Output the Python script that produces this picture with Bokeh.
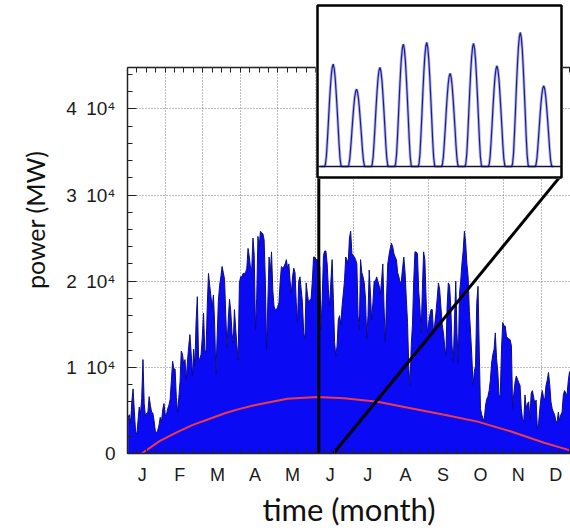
from bokeh.plotting import figure
from bokeh.models import Range1d, LinearAxis, FixedTicker, Grid, Span, Title
from bokeh.embed import file_html
from bokeh.resources import INLINE

# ---------------- data ----------------
MONTH_LABELS = ["J", "F", "M", "A", "M", "J", "J", "A", "S", "O", "N", "D"]
Y_TICKS = [0, 10000, 20000, 30000, 40000]
Y_TICK_LABELS = ["0", "1\u200210\u2074", "2\u200210\u2074", "3\u200210\u2074", "4\u200210\u2074"]

# daily peak power (MW), one list per month
JAN = [4200, 4500, 3500, 6000, 7500, 5000, 2600, 2200, 3800, 5400, 4600, 6400, 10900, 5800, 4300, 4700,
       4800, 6600, 5600, 4800, 4700, 3800, 2600, 2400, 2700, 3300, 4200, 3700, 5100, 5800, 4500]
FEB = [4500, 5200, 5600, 6300, 8500, 10700, 9800, 9800, 6500, 4800, 6500, 8300, 11900, 11500, 10300,
       10900, 8500, 10700, 12400, 13800, 11600, 9000, 12100, 10200, 15400, 18200, 10900, 11000]
MAR = [11500, 13500, 16300, 12000, 11800, 17000, 20900, 19500, 18200, 17000, 18400, 15000, 9200, 13500,
       17700, 19500, 20500, 21700, 21000, 20200, 16000, 12300, 15500, 17900, 16500, 14000, 12800, 16700,
       14500, 12500, 10900]
APR = [19800, 20500, 20500, 20900, 20900, 21000, 21500, 23800, 22800, 21500, 21500, 25000, 23000, 14400,
       18000, 25200, 24000, 25800, 25600, 25500, 24800, 20000, 12100, 17500, 22800, 21000, 23400, 19000,
       17100, 16700]
MAY = [16700, 17000, 17500, 20000, 21700, 21500, 21700, 22000, 22500, 21500, 22000, 20000, 18600, 20500,
       21500, 21000, 17500, 15200, 20000, 20500, 19000, 17500, 14000, 13300, 19800, 18500, 17500, 17800,
       18000, 20000, 22800]
JUN = [22800, 22500, 22500, 21700, 21700, 14400, 18000, 23000, 23500, 23500, 22000, 19000, 17100, 20000,
       22500, 18000, 12900, 11300, 12500, 15500, 16000, 15000, 17000, 18500, 20000, 22800, 22500, 22000,
       25000, 25800]
JUL = [23200, 23000, 22800, 22500, 22000, 16000, 14400, 22500, 21000, 20500, 19800, 18000, 13300, 16000,
       21300, 18500, 15500, 17500, 20000, 20000, 20500, 20000, 19500, 18500, 20000, 22000, 17000, 12900,
       18000, 22000, 23000]
AUG = [23800, 24400, 24000, 23200, 22800, 22500, 21000, 20500, 19800, 20000, 21500, 22800, 21000, 18000,
       15200, 10000, 7900, 12500, 15000, 20000, 23400, 23400, 23200, 19000, 17000, 14000, 19000, 23400,
       22500, 18000, 14000]
SEP = [15000, 16000, 16700, 16700, 14000, 15000, 16300, 18000, 19800, 19000, 17000, 15000, 14000, 12500,
       11300, 17000, 19800, 19500, 17000, 12500, 10600, 15500, 20000, 14000, 10500, 18500, 20000, 22000,
       23500, 25800]
OCT = [24500, 22000, 20500, 16500, 14000, 11300, 7900, 9500, 10200, 17500, 19400, 12000, 5200, 4500, 4100,
       3700, 5500, 6300, 6600, 7300, 8500, 10500, 11500, 12100, 14000, 11000, 9500, 6700, 6700, 12100, 15200]
NOV = [14800, 14800, 13600, 13400, 13300, 13200, 12500, 5200, 7000, 8300, 9000, 8600, 8200, 7900, 5200,
       4000, 3700, 6800, 5200, 5800, 6000, 4000, 7000, 7300, 6500, 5800, 6200, 2900, 3500, 5200]
DEC = [6500, 7300, 6500, 6200, 7900, 8500, 9400, 8000, 6000, 5200, 4800, 4500, 3700, 3700, 4800, 3800,
       4500, 4800, 6800, 7300, 7000, 6800, 8400, 9500, 9000, 8000, 6000, 5000, 4500, 5500, 6000]

# red curve (mean), month position -> MW
RED_MONTH = [0.38, 0.84, 1.28, 1.72, 2.17, 2.61, 2.96, 3.37, 4.25, 5.05, 5.76, 6.65, 7.53, 8.42, 9.31,
             10.2, 11.08, 11.7, 12.0]
RED_MW = [0, 1400, 2400, 3300, 4000, 4700, 5150, 5600, 6350, 6550, 6400, 6000, 5250, 4500, 3700, 2550,
          1250, 450, 0]

# inset: ten consecutive days in June (hourly)
INSET_PEAKS = [19440, 14690, 18810, 23240, 23560, 17670, 23370, 19130, 25460, 15330]
DAY_PROFILE = [0, 0, 0, 0, 0, 0.02, 0.10, 0.25, 0.42, 0.60, 0.76, 0.89, 0.97, 1.00, 0.96, 0.87, 0.73,
               0.57, 0.40, 0.22, 0.08, 0.01, 0, 0]

# ---------------- build ----------------
daily = JAN + FEB + MAR + APR + MAY + JUN + JUL + AUG + SEP + OCT + NOV + DEC
n_days = len(daily)
day_x = [(d + 0.5) * 12.0 / n_days for d in range(n_days)]

FONT_TICK = "Liberation Sans"
FONT_TITLE = "Lato"
W, H = 570, 530
FRAME_LEFT, FRAME_TOP, FRAME_BOTTOM = 127, 67, 457
X_END, Y_END = 11.78, 44800

p = figure(width=W, height=H, x_range=Range1d(0, X_END), y_range=Range1d(0, Y_END),
           x_axis_type=None, y_axis_type=None, output_backend="svg", toolbar_location=None,
           min_border_left=FRAME_LEFT, min_border_right=0, min_border_top=FRAME_TOP,
           min_border_bottom=H - FRAME_BOTTOM,
           background_fill_color="white", border_fill_color="white")
p.outline_line_color = None

PX_PER_MONTH = (W - FRAME_LEFT) / X_END
FRAME_H = FRAME_BOTTOM - FRAME_TOP
def mx(px):
    return (px - FRAME_LEFT) / PX_PER_MONTH
def my(py):
    return (FRAME_BOTTOM - py) / FRAME_H * Y_END

minor_x = [i * 0.25 for i in range(49)]
xgrid = Grid(dimension=0, ticker=FixedTicker(ticks=list(range(1, 12))),
             grid_line_color="#7a7a7a", grid_line_dash="1 2", grid_line_width=1)
ygrid = Grid(dimension=1, ticker=FixedTicker(ticks=Y_TICKS[1:]),
             grid_line_color="#7a7a7a", grid_line_dash="1 2", grid_line_width=1)
p.add_layout(xgrid, "center")
p.add_layout(ygrid, "center")

left = LinearAxis(ticker=FixedTicker(ticks=Y_TICKS, minor_ticks=list(range(0, 44801, 2000))),
                  major_label_overrides={float(t): s for t, s in zip(Y_TICKS, Y_TICK_LABELS)},
                  major_tick_in=9, major_tick_out=0, minor_tick_in=5, minor_tick_out=0,
                  axis_line_width=1.5, axis_line_color="#222222",
                  major_tick_line_color="#222222", minor_tick_line_color="#222222",
                  major_label_text_font=FONT_TICK, major_label_text_font_size="19px",
                  major_label_text_color="#1a1a1a", major_label_standoff=12)
p.add_layout(left, "left")

# y title, shifted up from the frame centre as in the reference
p.add_layout(Title(text="power (MW)", align="right", offset=83, standoff=27,
                   text_font=FONT_TITLE, text_font_size="25px", text_font_style="normal",
                   text_color="#111111"), "left")

label_pos = [i + 0.39 for i in range(12)]
bottom = LinearAxis(ticker=FixedTicker(ticks=label_pos, minor_ticks=minor_x),
                    major_label_overrides={x: m for x, m in zip(label_pos, MONTH_LABELS)},
                    major_tick_in=0, major_tick_out=0, minor_tick_in=5, minor_tick_out=0,
                    axis_line_width=1.5, axis_line_color="#222222", minor_tick_line_color="#222222",
                    major_label_text_font=FONT_TICK, major_label_text_font_size="18px",
                    major_label_text_color="#1a1a1a", major_label_standoff=11,
                    axis_label="time (month)", axis_label_text_font=FONT_TITLE,
                    axis_label_text_font_size="31px", axis_label_text_font_style="normal",
                    axis_label_text_color="#111111", axis_label_standoff=2)
p.add_layout(bottom, "below")

top = LinearAxis(ticker=FixedTicker(ticks=[], minor_ticks=minor_x),
                 major_tick_in=0, major_tick_out=0, minor_tick_in=5, minor_tick_out=0,
                 axis_line_width=1.5, axis_line_color="#222222", minor_tick_line_color="#222222",
                 major_label_standoff=0)
p.add_layout(top, "above")

# data
p.varea(x=day_x, y1=[0] * n_days, y2=daily, fill_color="#0a0af5")
p.line(day_x, daily, line_color="#0c0c8a", line_width=1)
p.line(RED_MONTH, RED_MW, line_color="#ee3b46", line_width=2)

# connector lines to the inset (pixel layout -> data coordinates)
y_top = my(178)
p.line([mx(318.3), mx(318.3)], [0, y_top], line_color="black", line_width=3)
p.line([mx(333), mx(559)], [0, y_top], line_color="black", line_width=3)

# ---------------- inset ----------------
hours, vals = [], []
for d, pk in enumerate(INSET_PEAKS):
    for h, f in enumerate(DAY_PROFILE):
        hours.append(24 * d + h)
        vals.append(pk * f)

inset = figure(width=248, height=176, x_range=Range1d(-3.1, 247.2), y_range=Range1d(-2090, 30590),
               x_axis_type=None, y_axis_type=None, output_backend="svg", toolbar_location=None,
               min_border=2, background_fill_color="white", border_fill_color="white",
               styles={"position": "absolute", "left": "315px", "top": "3px"})
inset.outline_line_color = "black"
inset.outline_line_width = 2.5
inset.add_layout(Span(location=0, dimension="width", line_color="#101040", line_width=1.5))
inset.line(hours, vals, line_color="#8a8ae0", line_width=3, line_alpha=0.6)
inset.line(hours, vals, line_color="#1c1c8c", line_width=1.2)

open("out.html", "w").write(file_html([p, inset], INLINE))
